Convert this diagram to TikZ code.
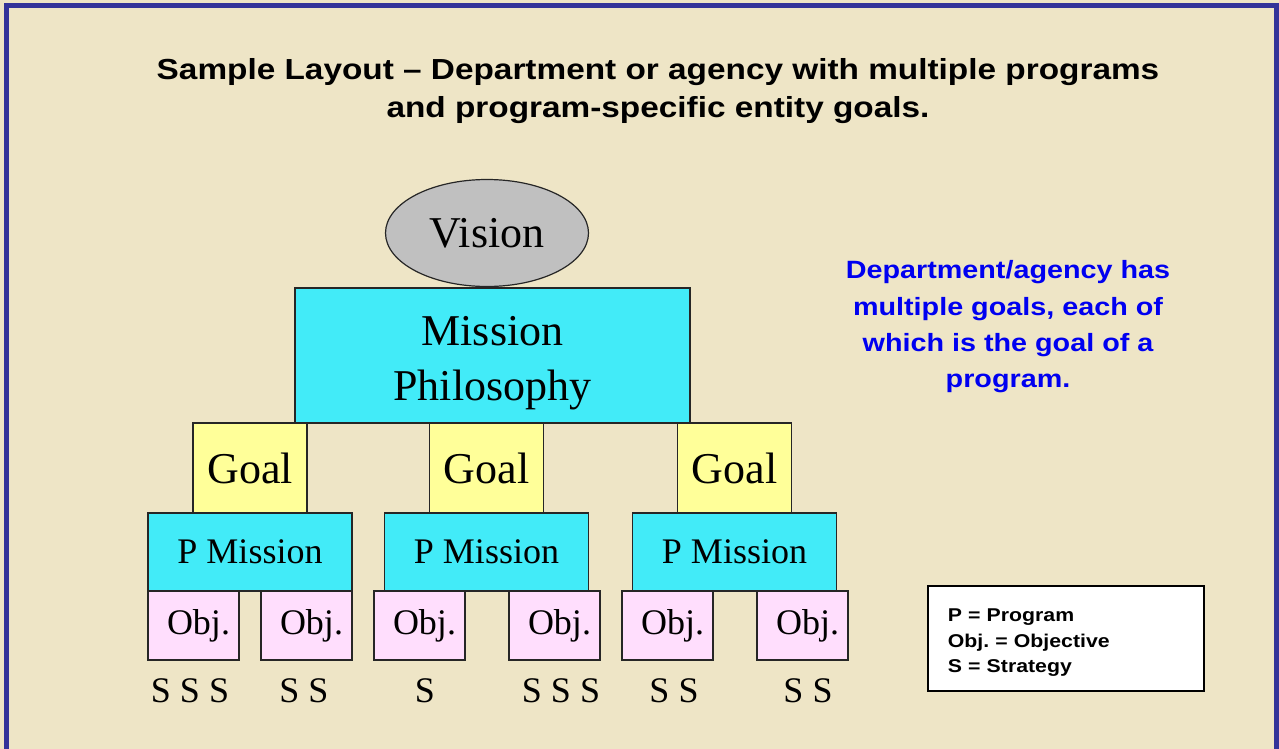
\documentclass[tikz,border=0pt]{standalone}
\usepackage{fontspec}
\setmainfont{Liberation Serif}
\newfontfamily\headfont[FakeStretch=1.15,Ligatures=TeX]{Liberation Sans}
\usetikzlibrary{shapes.geometric}
\definecolor{slidebg}{RGB}{238,229,198}
\definecolor{slideframe}{RGB}{51,51,153}
\definecolor{visiongray}{RGB}{192,192,192}
\definecolor{missioncyan}{RGB}{66,235,248}
\definecolor{goalyellow}{RGB}{255,255,153}
\definecolor{objpink}{RGB}{255,222,253}
\definecolor{noteblue}{RGB}{0,0,240}
\tikzset{
  box/.style={draw=black!85, line width=1.2pt, inner sep=0pt, align=center},
  bigtext/.style={font=\fontsize{44}{55}\selectfont},
  smalltext/.style={font=\fontsize{36}{40}\selectfont},
  visionnode/.style={box, bigtext, ellipse, fill=visiongray, minimum width=203, minimum height=107},
  missionbox/.style={box, bigtext, fill=missioncyan, minimum width=395, minimum height=135,
    text height=89pt, text depth=0pt},
  goalbox/.style={box, bigtext, fill=goalyellow, minimum width=114, minimum height=90},
  pmissionbox/.style={box, smalltext, fill=missioncyan, minimum width=204, minimum height=78},
  objbox/.style={box, smalltext, fill=objpink, minimum width=91, minimum height=69,
    execute at begin node={\hspace*{10pt}}},
  stext/.style={smalltext, inner sep=0pt, anchor=base}
}
\begin{document}
\begin{tikzpicture}[x=1pt,y=-1pt]
\useasboundingbox (0,0) rectangle (1279,749);
\fill[slidebg] (0,0) rectangle (1279,749);
\draw[slideframe, line width=5pt] (6.5,5.5) rectangle (1276.5,770);

\node[align=center, font=\headfont\bfseries\fontsize{29}{38}\selectfont] at (658,91)
  (title) {Sample Layout -- Department or agency with multiple programs\\and program-specific entity goals.};

\node[visionnode] at (487,233) (vision) {Vision};
\node[missionbox] at (492.5,355.5) (mission) {Mission\\Philosophy};

\node[goalbox] at (250,468) (goal1) {Goal};
\node[goalbox] at (486.5,468) (goal2) {Goal};
\node[goalbox] at (734.5,468) (goal3) {Goal};

\node[pmissionbox] at (250,552) (pm1) {P Mission};
\node[pmissionbox] at (486.5,552) (pm2) {P Mission};
\node[pmissionbox] at (734.5,552) (pm3) {P Mission};

\node[objbox] at (193.5,625.5) (obj1) {Obj.};
\node[objbox] at (306.5,625.5) (obj2) {Obj.};
\node[objbox] at (419.5,625.5) (obj3) {Obj.};
\node[objbox] at (554.5,625.5) (obj4) {Obj.};
\node[objbox] at (667.5,625.5) (obj5) {Obj.};
\node[objbox] at (802.5,625.5) (obj6) {Obj.};

\node[stext] at (190,702) (s1) {S S S};
\node[stext] at (304,702) (s2) {S S};
\node[stext] at (425,702) (s3) {S};
\node[stext] at (561,702) (s4) {S S S};
\node[stext] at (674,702) (s5) {S S};
\node[stext] at (808,702) (s6) {S S};

\node[align=center, text=noteblue, font=\headfont\bfseries\fontsize{25}{36.3}\selectfont] at (1008,327)
  (note) {Department/agency has\\multiple goals, each of\\which is the goal of a\\program.};

\node[draw=black, line width=1.6pt, fill=white, anchor=north west, minimum width=276, minimum height=105,
  text width=236, inner xsep=20, align=left, text height=14pt, text depth=47pt,
  font=\headfont\bfseries\fontsize{18.5}{25.5}\selectfont] at (927,585)
  (legend) {P = Program\\Obj.\ = Objective\\S = Strategy};
\end{tikzpicture}
\end{document}
